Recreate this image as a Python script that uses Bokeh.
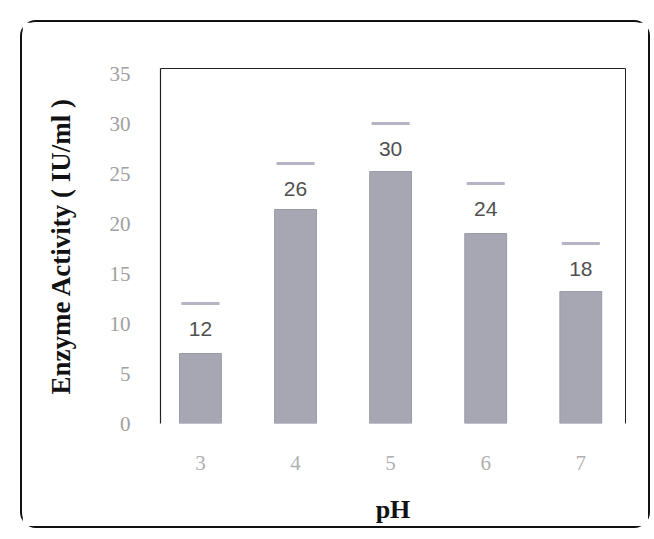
from bokeh.plotting import figure
from bokeh.layouts import column
from bokeh.models import ColumnDataSource, LinearAxis, Range1d, FixedTicker
from bokeh.core.properties import value
from bokeh.embed import file_html
from bokeh.resources import INLINE

ph = [3, 4, 5, 6, 7]
activity = [12, 26, 30, 24, 18]          # labelled values (bar tops)
shaded_top = [7, 21.4, 25.2, 19, 13.2]   # visible dark part of each bar
value_labels = ["12", "26", "30", "24", "18"]
y_ticks = [0, 5, 10, 15, 20, 25, 30, 35]
x_ticks = [3, 4, 5, 6, 7]

src = ColumnDataSource(dict(ph=ph, activity=activity, shaded=shaded_top, lab=value_labels))

p = figure(width=626, height=504, output_backend="svg", toolbar_location=None,
           x_range=Range1d(2.58, 7.47), y_range=Range1d(0, 35.5),
           min_border_left=138, min_border_right=23, min_border_top=46, min_border_bottom=100,
           x_axis_location=None, y_axis_location=None)
p.grid.visible = False
p.outline_line_color = None
p.background_fill_color = "white"

yax = LinearAxis(ticker=FixedTicker(ticks=y_ticks))
yax.axis_line_color = "#222"
yax.axis_line_width = 1.2
yax.major_tick_line_color = None
yax.minor_tick_line_color = None
yax.major_label_standoff = 24
yax.major_label_text_color = "#a0a0a0"
yax.major_label_text_font = "Liberation Serif"
yax.major_label_text_font_size = "21px"
yax.axis_label = "Enzyme Activity ( IU/ml )"
yax.axis_label_text_font = "Liberation Serif"
yax.axis_label_text_font_style = "bold"
yax.axis_label_text_font_size = "27px"
yax.axis_label_text_color = "#111"
yax.axis_label_standoff = 31
p.add_layout(yax, "left")

xax = LinearAxis(ticker=FixedTicker(ticks=x_ticks))
xax.axis_line_color = None
xax.major_tick_line_color = None
xax.minor_tick_line_color = None
xax.major_label_standoff = 26
xax.major_label_text_color = "#b0b0b0"
xax.major_label_text_font = "Liberation Serif"
xax.major_label_text_font_size = "21px"
xax.axis_label = "pH"
xax.axis_label_text_font = "Liberation Serif"
xax.axis_label_text_font_style = "bold"
xax.axis_label_text_font_size = "26px"
xax.axis_label_text_color = "#111"
xax.axis_label_standoff = 22
p.add_layout(xax, "below")

rax = LinearAxis(ticker=FixedTicker(ticks=[]))
rax.axis_line_color = "#222"
rax.major_label_text_font_size = "0px"
p.add_layout(rax, "right")
tax = LinearAxis(ticker=FixedTicker(ticks=[]))
tax.axis_line_color = "#222"
tax.major_label_text_font_size = "0px"
p.add_layout(tax, "above")

p.vbar(x="ph", top="shaded", bottom=0, width=0.44, source=src,
       fill_color="#a7a7b4", line_color="#9a9aa8", line_width=1)
p.rect(x="ph", y="activity", width=0.4, height=3, height_units="screen", source=src,
       fill_color="#b4b4c6", line_color=None)
p.text(x="ph", y="activity", text="lab", source=src, y_offset=25,
       text_align="center", text_baseline="middle",
       text_font=value("Liberation Sans"), text_font_size="21px", text_color="#505050")

layout = column(p, styles={"border": "2px solid #111", "border-radius": "16px",
                           "margin-left": "20px", "margin-top": "20px",
                           "box-sizing": "content-box"})

open("out.html", "w").write(file_html(layout, INLINE))
